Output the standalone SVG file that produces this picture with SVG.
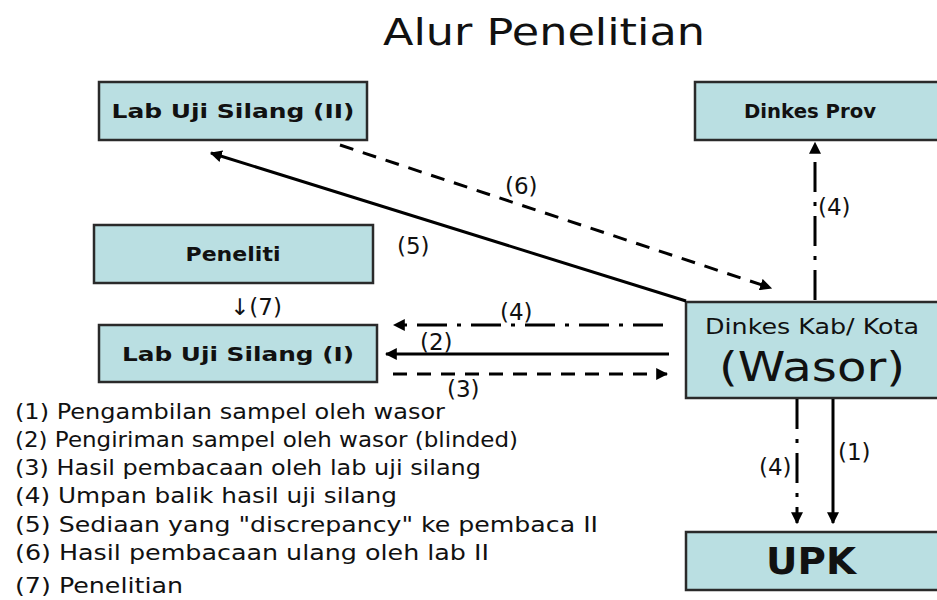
<svg xmlns="http://www.w3.org/2000/svg" width="937" height="600" viewBox="0 0 937 600">
<defs>
<marker id="ah" viewBox="0 0 10 10" refX="9" refY="5" markerWidth="4" markerHeight="4" orient="auto" markerUnits="strokeWidth">
<path d="M0,0 L10,5 L0,10 z" fill="#000"/>
</marker>
</defs>
<style>
.box{fill:#badfe2;stroke:#2a2a2a;stroke-width:2.5}
.bt{font-family:"DejaVu Sans",sans-serif;font-weight:bold;fill:#111;text-anchor:middle}
.t{font-family:"DejaVu Sans",sans-serif;fill:#111}
.c{fill:none;stroke:#000;stroke-width:3}
.dash{stroke-dasharray:14 10}
.dd{stroke-dasharray:30 10 4 10}
</style>
<rect width="937" height="600" fill="#fff"/>
<text class="t" x="544" y="45" font-size="38" text-anchor="middle" textLength="322" lengthAdjust="spacingAndGlyphs">Alur Penelitian</text>

<g id="lab2"><rect class="box" x="99" y="82" width="268" height="58"/><text class="bt" x="233" y="118" font-size="19" textLength="243" lengthAdjust="spacingAndGlyphs">Lab Uji Silang (II)</text></g>
<g id="dinkesprov"><rect class="box" x="695" y="82" width="250" height="58"/><text class="bt" x="810" y="118" font-size="19" textLength="132" lengthAdjust="spacingAndGlyphs">Dinkes Prov</text></g>
<g id="peneliti"><rect class="box" x="94" y="225" width="279" height="58"/><text class="bt" x="233" y="261" font-size="19" textLength="95" lengthAdjust="spacingAndGlyphs">Peneliti</text></g>
<g id="lab1"><rect class="box" x="99" y="325" width="278" height="57"/><text class="bt" x="238" y="361" font-size="19" textLength="232" lengthAdjust="spacingAndGlyphs">Lab Uji Silang (I)</text></g>
<g id="wasor"><rect class="box" x="686" y="302" width="260" height="96"/><text class="t" x="812" y="334" font-size="21" text-anchor="middle" textLength="214" lengthAdjust="spacingAndGlyphs">Dinkes Kab/ Kota</text><text class="t" x="812" y="381" font-size="40" text-anchor="middle" textLength="186" lengthAdjust="spacingAndGlyphs">(Wasor)</text></g>
<g id="upk"><rect class="box" x="686" y="532" width="260" height="58"/><text class="bt" x="811" y="574" font-size="38" textLength="90" lengthAdjust="spacingAndGlyphs">UPK</text></g>

<g id="connectors">
<line class="c" x1="686" y1="301" x2="211" y2="153" marker-end="url(#ah)"/>
<line class="c dash" x1="340" y1="145" x2="771" y2="288" marker-end="url(#ah)"/>
<line class="c dd" x1="815" y1="300" x2="815" y2="143" marker-end="url(#ah)"/>
<line class="c dd" x1="663" y1="325" x2="394" y2="325" marker-end="url(#ah)"/>
<line class="c" x1="669" y1="354" x2="386" y2="354" marker-end="url(#ah)"/>
<line class="c dash" x1="393" y1="374" x2="667" y2="374" marker-end="url(#ah)"/>
<line class="c dd" x1="797" y1="399" x2="797" y2="523" marker-end="url(#ah)"/>
<line class="c" x1="833" y1="399" x2="833" y2="523" marker-end="url(#ah)"/>
</g>

<g id="labels" class="t" font-size="23">
<text x="505" y="194">(6)</text>
<text x="397" y="254">(5)</text>
<text x="818" y="215">(4)</text>
<text x="230" y="315">↓(7)</text>
<text x="500" y="320">(4)</text>
<text x="420" y="350">(2)</text>
<text x="447" y="397">(3)</text>
<text x="759" y="475">(4)</text>
<text x="838" y="460">(1)</text>
</g>

<g id="legend" class="t" font-size="20.5">
<text x="15" y="419" textLength="430" lengthAdjust="spacingAndGlyphs">(1) Pengambilan sampel oleh wasor</text>
<text x="15" y="447" textLength="503" lengthAdjust="spacingAndGlyphs">(2) Pengiriman sampel oleh wasor (blinded)</text>
<text x="15" y="475" textLength="466" lengthAdjust="spacingAndGlyphs">(3) Hasil pembacaan oleh lab uji silang</text>
<text x="15" y="503" textLength="382" lengthAdjust="spacingAndGlyphs">(4) Umpan balik hasil uji silang</text>
<text x="15" y="532" textLength="583" lengthAdjust="spacingAndGlyphs">(5) Sediaan yang "discrepancy" ke pembaca II</text>
<text x="15" y="560" textLength="474" lengthAdjust="spacingAndGlyphs">(6) Hasil pembacaan ulang oleh lab II</text>
<text x="15" y="593" textLength="168" lengthAdjust="spacingAndGlyphs">(7) Penelitian</text>
</g>
</svg>
